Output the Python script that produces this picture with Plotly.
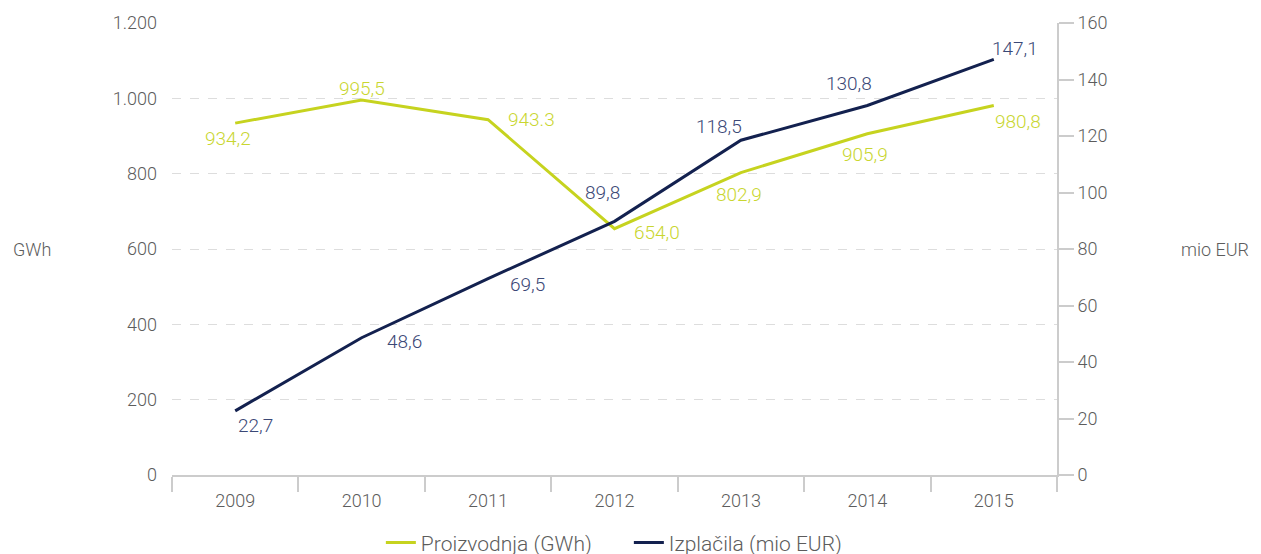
import plotly.graph_objects as go

years = ["2009", "2010", "2011", "2012", "2013", "2014", "2015"]
proizvodnja = [934.2, 995.5, 943.3, 654.0, 802.9, 905.9, 980.8]
proizvodnja_labels = ["934,2", "995,5", "943.3", "654,0", "802,9", "905,9", "980,8"]
izplacila = [22.7, 48.6, 69.5, 89.8, 118.5, 130.8, 147.1]
izplacila_labels = ["22,7", "48,6", "69,5", "89,8", "118,5", "130,8", "147,1"]

GREEN = "#c6d31f"
NAVY = "#13214f"
GREEN_TXT = "#c9d630"
NAVY_TXT = "#3b4876"
GRAY = "#5c5c5c"
FONT = "Roboto"

# label offsets in pixels (dx right, dy down)
off_p = [(-7, 15), (0, -12), (43, 0), (42, 4), (-2, 22), (-2, 21), (24, 16)]
off_i = [(20, 15), (43, 4), (39, 6), (-12, -29), (-22, -14), (-18, -22), (21, -11)]

fig = go.Figure()
fig.add_trace(go.Scatter(
    x=years, y=proizvodnja, name="Proizvodnja (GWh)", mode="lines",
    line=dict(color=GREEN, width=3), yaxis="y"))
fig.add_trace(go.Scatter(
    x=years, y=izplacila, name="Izplačila (mio EUR)", mode="lines",
    line=dict(color=NAVY, width=3), yaxis="y2"))

annotations = []
for i, (y, t, (dx, dy)) in enumerate(zip(proizvodnja, proizvodnja_labels, off_p)):
    annotations.append(dict(x=i, y=y, xref="x", yref="y", text=t, showarrow=False,
                            xshift=dx, yshift=-dy,
                            font=dict(size=19, color=GREEN_TXT, family=FONT, weight=300)))
for i, (y, t, (dx, dy)) in enumerate(zip(izplacila, izplacila_labels, off_i)):
    annotations.append(dict(x=i, y=y, xref="x", yref="y2", text=t, showarrow=False,
                            xshift=dx, yshift=-dy,
                            font=dict(size=19, color=NAVY_TXT, family=FONT, weight=300)))
annotations += [
    dict(text="GWh", xref="paper", yref="paper", x=-0.182, y=0.5,
         xanchor="left", yanchor="middle", showarrow=False,
         font=dict(size=18, color=GRAY, weight=300)),
    dict(text="mio EUR", xref="paper", yref="paper", x=1.138, y=0.5,
         xanchor="left", yanchor="middle", showarrow=False,
         font=dict(size=18, color=GRAY, weight=300)),
]

fig.update_layout(
    width=1261, height=554,
    margin=dict(l=164, r=212, t=15, b=87, autoexpand=False),
    plot_bgcolor="white", paper_bgcolor="white",
    separators=",.",
    font=dict(family=FONT, color=GRAY, size=18, weight=300),
    showlegend=True,
    legend=dict(orientation="h", x=0.236, xanchor="left", y=-0.15, yanchor="middle",
                font=dict(size=21, color=GRAY, weight=300), itemwidth=30,
                entrywidth=203, entrywidthmode="pixels", tracegroupgap=0),
    xaxis=dict(type="category", range=[-0.5, 6.5], showgrid=False, showline=True,
               linecolor="#cccccc", linewidth=2, ticks="outside", tickson="boundaries",
               ticklen=15, tickcolor="#cccccc", tickwidth=2, ticklabelstandoff=8,
               tickfont=dict(size=18, color=GRAY), fixedrange=True),
    yaxis=dict(range=[0, 1200], dtick=200, tickformat=",d", showline=False,
               showgrid=True, gridcolor="#dddddd", griddash="dash", gridwidth=1,
               zeroline=False, ticks="", ticklabelstandoff=14,
               tickfont=dict(size=18, color=GRAY)),
    yaxis2=dict(range=[0, 160], dtick=20, overlaying="y", side="right",
                showline=True, linecolor="#cccccc", linewidth=2, showgrid=False,
                zeroline=False, ticks="outside", ticklen=15, tickcolor="#cccccc",
                tickwidth=2, tickfont=dict(size=18, color=GRAY)),
    annotations=annotations,
)

fig.write_html("out.html")
